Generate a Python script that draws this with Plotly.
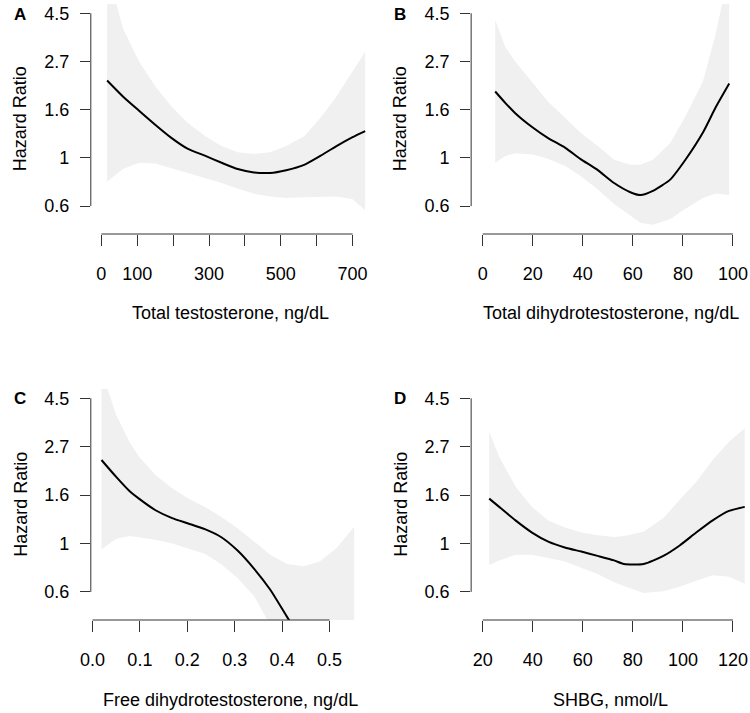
import numpy as np
import plotly.graph_objects as go

# ---------------- data (hazard ratios) ----------------
# Panel A: Total testosterone, ng/dL
a_x = [16, 60, 105, 150, 195, 240, 290, 335, 380, 425, 470, 515, 565, 610, 655, 700, 735]
a_hr = [2.23, 1.89, 1.63, 1.41, 1.23, 1.10, 1.02, 0.95, 0.89, 0.86, 0.855, 0.88, 0.93, 1.02, 1.13, 1.24, 1.32]
a_up = [7.0, 3.84, 2.72, 2.10, 1.71, 1.44, 1.25, 1.13, 1.06, 1.04, 1.06, 1.13, 1.25, 1.51, 1.89, 2.45, 3.01]
a_lo = [0.78, 0.89, 0.95, 0.943, 0.90, 0.856, 0.81, 0.77, 0.725, 0.69, 0.67, 0.66, 0.665, 0.67, 0.67, 0.65, 0.58]

# Panel B: Total dihydrotestosterone, ng/dL
b_x = [5, 9, 13, 20, 26, 33, 39, 46, 52.5, 59, 63, 68, 75, 81, 88, 93, 98.5]
b_hr = [1.99, 1.77, 1.59, 1.37, 1.23, 1.11, 0.99, 0.88, 0.77, 0.70, 0.68, 0.71, 0.80, 0.98, 1.30, 1.68, 2.16]
b_up = [4.18, 3.17, 2.72, 2.17, 1.80, 1.51, 1.30, 1.13, 0.98, 0.93, 0.93, 0.98, 1.17, 1.54, 2.21, 3.58, 7.0]
b_lo = [0.95, 1.02, 1.05, 1.035, 0.99, 0.92, 0.83, 0.72, 0.62, 0.55, 0.51, 0.50, 0.53, 0.59, 0.66, 0.69, 0.68]

# Panel C: Free dihydrotestosterone, ng/dL
c_x = [0.019, 0.05, 0.078, 0.098, 0.133, 0.168, 0.202, 0.237, 0.271, 0.306, 0.341, 0.375, 0.41, 0.445, 0.479, 0.514, 0.552]
c_hr = [2.37, 1.99, 1.72, 1.59, 1.41, 1.30, 1.23, 1.16, 1.07, 0.93, 0.77, 0.62, 0.47, 0.36, 0.30, 0.24, 0.19]
c_up = [6.0, 3.77, 2.86, 2.45, 2.03, 1.77, 1.59, 1.46, 1.32, 1.17, 1.02, 0.89, 0.81, 0.79, 0.83, 0.95, 1.19]
c_lo = [0.94, 1.05, 1.08, 1.07, 1.04, 1.00, 0.95, 0.90, 0.81, 0.70, 0.58, 0.43, 0.38, 0.32, 0.28, 0.25, 0.22]

# Panel D: SHBG, nmol/L
d_x = [22.6, 26.6, 33.1, 39.7, 46.2, 52.8, 59.4, 65.9, 72.5, 76.4, 84.3, 92.2, 98.7, 105.3, 111.9, 118.4, 124.7]
d_hr = [1.59, 1.46, 1.27, 1.12, 1.02, 0.96, 0.92, 0.88, 0.84, 0.81, 0.81, 0.88, 0.98, 1.12, 1.27, 1.40, 1.46]
d_up = [3.17, 2.45, 1.80, 1.46, 1.27, 1.18, 1.12, 1.09, 1.07, 1.08, 1.13, 1.30, 1.57, 1.89, 2.37, 2.86, 3.29]
d_lo = [0.80, 0.84, 0.89, 0.89, 0.86, 0.83, 0.78, 0.73, 0.67, 0.645, 0.60, 0.61, 0.64, 0.68, 0.72, 0.71, 0.66]

# tick labels
y_tick_labels = ["0.6", "1", "1.6", "2.7", "4.5"]
y_tick_log = [-0.5, 0.0, 0.5, 1.0, 1.5]          # natural-log positions
a_ticks = [0, 100, 200, 300, 400, 500, 600, 700]
a_tick_labels = ["0", "100", "", "300", "", "500", "", "700"]
b_ticks = [0, 20, 40, 60, 80, 100]
b_tick_labels = ["0", "20", "40", "60", "80", "100"]
c_ticks = [0.0, 0.1, 0.2, 0.3, 0.4, 0.5]
c_tick_labels = ["0.0", "0.1", "0.2", "0.3", "0.4", "0.5"]
d_ticks = [20, 40, 60, 80, 100, 120]
d_tick_labels = ["20", "40", "60", "80", "100", "120"]

letters = ["A", "B", "C", "D"]
x_titles = ["Total testosterone, ng/dL", "Total dihydrotestosterone, ng/dL",
            "Free dihydrotestosterone, ng/dL", "SHBG, nmol/L"]
y_title = "Hazard Ratio"

# ---------------- layout geometry ----------------
W, H = 750, 713
FONT = "Liberation Sans, Arial, sans-serif"
FS = 18
AXC = "#333333"
BAND = "rgb(240,240,240)"

col_px = [(81, 364), (467, 750)]
row_px = [(4, 234), (389, 620)]
x_ranges = [(-29.4, 747.5), (-4.61, 106.8), (-0.0035, 0.5846), (15.39, 126.8)]
y_range = [-0.79, 1.596]

panels = [
    (a_x, a_hr, a_up, a_lo, a_ticks, a_tick_labels),
    (b_x, b_hr, b_up, b_lo, b_ticks, b_tick_labels),
    (c_x, c_hr, c_up, c_lo, c_ticks, c_tick_labels),
    (d_x, d_hr, d_up, d_lo, d_ticks, d_tick_labels),
]

fig = go.Figure()
layout = dict(
    width=W, height=H, margin=dict(l=0, r=0, t=0, b=0),
    plot_bgcolor="white", paper_bgcolor="white", showlegend=False,
    font=dict(family=FONT, size=FS, color="black"),
)
shapes = []
annotations = []

for i, (xs, hr, up, lo, xt, xtl) in enumerate(panels):
    r, c = divmod(i, 2)
    k = "" if i == 0 else str(i + 1)
    xa, ya = "x" + k, "y" + k
    ln_hr = np.log(hr)
    ln_up = np.log(up)
    ln_lo = np.log(lo)
    fig.add_trace(go.Scatter(
        x=list(xs) + list(xs)[::-1], y=list(ln_up) + list(ln_lo)[::-1],
        fill="toself", fillcolor=BAND, line=dict(width=0), mode="lines",
        hoverinfo="skip", xaxis=xa, yaxis=ya))
    fig.add_trace(go.Scatter(
        x=xs, y=ln_hr, mode="lines", line=dict(color="black", width=2, shape="spline", smoothing=0.6),
        xaxis=xa, yaxis=ya))

    x0p, x1p = col_px[c]
    y0p, y1p = row_px[r]
    layout["xaxis" + k] = dict(
        domain=[x0p / W, x1p / W], range=list(x_ranges[i]), anchor=ya,
        showgrid=False, zeroline=False, showline=False,
        ticks="outside", ticklen=11, tickwidth=1, tickcolor=AXC,
        tickvals=xt, ticktext=xtl, tickfont=dict(size=FS, family=FONT, color="black"),
        ticklabelstandoff=12,
    )
    layout["yaxis" + k] = dict(
        domain=[1 - y1p / H, 1 - y0p / H], range=y_range, anchor=xa,
        showgrid=False, zeroline=False, showline=False,
        ticks="outside", ticklen=10, tickwidth=1, tickcolor=AXC,
        tickvals=y_tick_log, ticktext=y_tick_labels,
        tickfont=dict(size=FS, family=FONT, color="black"),
        ticklabelstandoff=7,
    )
    # R-style axis lines spanning first to last tick
    shapes.append(dict(type="line", xref=xa, yref=ya + " domain", x0=xt[0], x1=xt[-1], y0=0, y1=0,
                       line=dict(color=AXC, width=1)))
    shapes.append(dict(type="line", xref=xa + " domain", yref=ya, x0=0, x1=0,
                       y0=y_tick_log[0], y1=y_tick_log[-1], line=dict(color=AXC, width=1)))

    # panel letter
    lx = 9.5 if c == 0 else 394.5
    ly = 15 if r == 0 else 399
    annotations.append(dict(text="<b>" + letters[i] + "</b>", xref="paper", yref="paper",
                            x=lx / W, y=1 - ly / H, xanchor="center", yanchor="middle",
                            showarrow=False, font=dict(size=17, family=FONT, color="black")))
    # y title
    tx = 9.5 if c == 0 else 395
    annotations.append(dict(text=y_title, xref="paper", yref="paper", textangle=-90,
                            x=tx / W, y=1 - ((y0p + y1p) / 2) / H, xanchor="center", yanchor="middle",
                            showarrow=False, font=dict(size=FS, family=FONT, color="black")))
    # x title
    ty = 313 if r == 0 else 700
    annotations.append(dict(text=x_titles[i], xref="paper", yref="paper",
                            x=((x0p + x1p) / 2) / W, y=1 - ty / H, xanchor="center", yanchor="middle",
                            showarrow=False, font=dict(size=FS, family=FONT, color="black")))

layout["shapes"] = shapes
layout["annotations"] = annotations
fig.update_layout(**layout)
fig.write_html("out.html", config={"displayModeBar": False},
               post_script="document.body.style.margin='0';document.body.style.overflow='hidden';")
